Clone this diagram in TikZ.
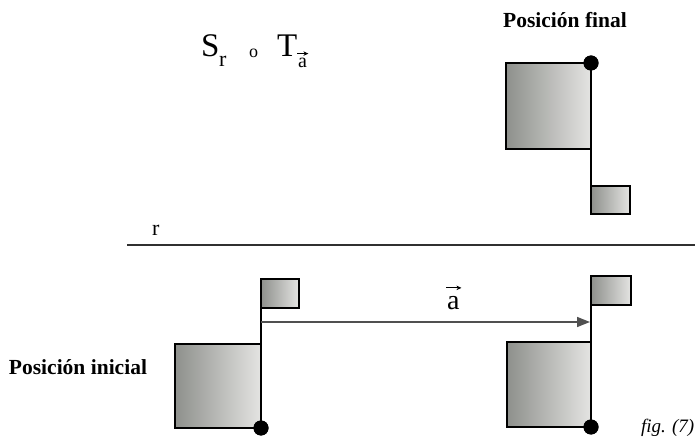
\documentclass[tikz,border=0pt]{standalone}
\usepackage{fontspec}
\setmainfont{Liberation Serif}
\usetikzlibrary{arrows.meta}
\definecolor{sqdark}{HTML}{8E908C}
\definecolor{sqlight}{HTML}{E4E4E2}
\definecolor{arrowgray}{HTML}{505050}
\definecolor{linegray}{HTML}{303030}
\begin{document}
\begin{tikzpicture}[x=1pt,y=-1pt,
  sq/.style={draw=black, line width=2.4pt, left color=sqdark, right color=sqlight,
    inner sep=0pt, outer sep=0pt, anchor=north west},
  dotn/.style={circle, fill=black, minimum size=15pt, inner sep=0pt},
  pole/.style={line width=2.4pt, black},
  lbl/.style={inner sep=0pt, outer sep=0pt, anchor=base west},
  title/.style={inner sep=0pt, outer sep=0pt, anchor=base, font=\fontsize{21.5}{24}\selectfont\bfseries},
  vecarrow/.style={arrowgray, line width=1.5pt, -{Triangle[length=13pt,width=10pt]}},
  accarrow/.style={black, line width=0.9pt, -{Stealth[length=5pt,width=4.5pt]}}]
\useasboundingbox (0,0) rectangle (699,438);

% formula
\node[lbl, font=\fontsize{33}{36}\selectfont] (S) at (201,57) {S};
\node[lbl, font=\fontsize{22}{24}\selectfont] (Sr) at (219,67) {r};
\node[lbl, font=\fontsize{18}{20}\selectfont] (comp) at (249,58) {o};
\node[lbl, font=\fontsize{33}{36}\selectfont] (T) at (277,57) {T};
\node[lbl, font=\fontsize{20}{22}\selectfont] (Ta) at (298,68) {a};
\draw[accarrow] ([xshift=-1pt,yshift=5pt]Ta.north west) -- ([xshift=1.5pt,yshift=5pt]Ta.north east);

% titles
\node[title] (fin) at (565,28) {Posición final};
\node[title, anchor=base west] (ini) at (9,374) {Posición inicial};
\node[lbl, font=\fontsize{19}{21}\selectfont\itshape] (fig) at (641,432) {fig. (7)};

% line r
\coordinate (r1) at (127,245);
\coordinate (r2) at (695,245);
\draw[linegray, line width=1.5pt] (r1) -- (r2);
\node[lbl, font=\fontsize{22}{24}\selectfont] (rl) at (152,236) {r};

% final position
\node[sq, minimum width=85pt, minimum height=86pt] (q1) at (506,63) {};
\node[sq, minimum width=39pt, minimum height=28pt] (f1) at (591,186) {};
\node[dotn] (d1) at (591,63) {};
\draw[pole] (d1.center) -- (f1.south west);
\node[dotn] at (d1) {};

% initial position
\node[sq, minimum width=86pt, minimum height=84pt] (q2) at (175,344) {};
\node[sq, minimum width=38pt, minimum height=29pt] (f2) at (261,279) {};
\node[dotn] (d2) at (261,428) {};
\draw[pole] (d2.center) -- (f2.north west);
\node[dotn] at (d2) {};

% translated position
\node[sq, minimum width=84pt, minimum height=85pt] (q3) at (507,342) {};
\node[sq, minimum width=40pt, minimum height=29pt] (f3) at (591,276) {};
\node[dotn] (d3) at (591,427) {};
\draw[pole] (d3.center) -- (f3.north west);
\node[dotn] at (d3) {};

% translation vector
\coordinate (v1) at (261,322);
\coordinate (v2) at (590,322);
\draw[vecarrow] (v1) -- (v2);
\node[lbl, font=\fontsize{28}{30}\selectfont] (va) at (447,310) {a};
\draw[accarrow] ([xshift=-1pt,yshift=9pt]va.north west) -- ([xshift=2pt,yshift=9pt]va.north east);
\end{tikzpicture}
\end{document}
